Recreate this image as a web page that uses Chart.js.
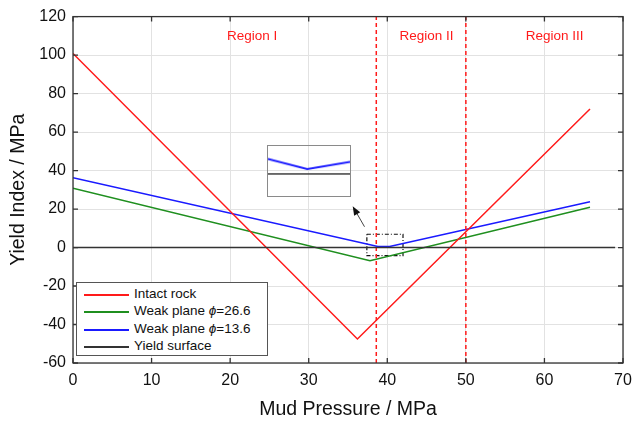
<!DOCTYPE html>
<html>
<head>
<meta charset="utf-8">
<script src="https://cdn.jsdelivr.net/npm/chart.js@4.4.0/dist/chart.umd.min.js"></script>
<style>
  body { margin: 0; background: #fff; }
  #wrap { position: relative; width: 633px; height: 423px; font-family: "Liberation Sans", Arial, sans-serif; }
  #main { position: absolute; left: 0; top: 0; }
  #inset { position: absolute; left: 267px; top: 145px; border: 1.5px solid #8a8a8a; }
  #legend { position: absolute; left: 76px; top: 282px; width: 190px; height: 72px;
            border: 1.5px solid #555; background: #fff; }
  #legend .row { position: absolute; left: 0; height: 16px; font-size: 13.5px; color: #111; white-space: nowrap; }
  #legend .sw { position: absolute; left: 7px; top: 8px; width: 45px; height: 1.5px; }
  #legend .lbl { position: absolute; left: 57px; top: 0; line-height: 16px; }
</style>
</head>
<body>
<div id="wrap">
  <canvas id="main" width="633" height="423"></canvas>
  <canvas id="inset" width="84" height="52"></canvas>
  <div id="legend"></div>
</div>
<script>
// yield index curves vs mud pressure (MPa)
const xIntact = [0, 36.2, 65.8];
const intactRock = [100.8, -47.5, 72.0];
const xWeak26 = [0, 37.8, 65.8];
const weakPlane26 = [30.8, -6.9, 20.9];
const xWeak13 = [0, 38.8, 40.3, 65.8];
const weakPlane13 = [36.3, 0.5, 0.5, 23.8];
const xYield = [0, 69];
const yieldSurface = [0, 0];

// region boundaries and labels
const regionBounds = [38.6, 50];
const regionNames = ['Region I', 'Region II', 'Region III'];
const regionLabelX = [22.8, 45.0, 61.3];
const regionLabelY = 107.6;

// zoom window around the blue minimum, and the pointer arrow
const zoomBoxX = [37.4, 42.0, 42.0, 37.4, 37.4];
const zoomBoxY = [6.9, 6.9, -4.2, -4.2, 6.9];
const arrowFrom = [37.1, 10.8];
const arrowTo = [35.6, 21.5];

// magnified view shown in the inset
const insetX = [37.4, 39.6, 42.0];
const insetBlue = [3.3, 1.06, 2.7];
const insetYieldX = [37.4, 42.0];
const insetYield = [0, 0];

const RED = '#ff1a1a', GREEN = '#1f8f1f', BLUE = '#1a1aff', DARK = '#333';
const FONT = '"Liberation Sans", Arial, sans-serif';

const pts = (xs, ys) => xs.map((x, i) => ({ x: x, y: ys[i] }));

const legendItems = [
  { color: RED, html: 'Intact rock' },
  { color: GREEN, html: 'Weak plane <i>&#981;</i>=26.6' },
  { color: BLUE, html: 'Weak plane <i>&#981;</i>=13.6' },
  { color: DARK, html: 'Yield surface' }
];
const legendEl = document.getElementById('legend');
legendItems.forEach((it, i) => {
  const row = document.createElement('div');
  row.className = 'row';
  row.style.top = Math.round(3 + i * 17.3) + 'px';
  row.innerHTML = '<div class="sw" style="background:' + it.color + '"></div><span class="lbl">' + it.html + '</span>';
  legendEl.appendChild(row);
});

// box, inward ticks, region text and arrow
const decorations = {
  id: 'decorations',
  afterDatasetsDraw(chart) {
    const { ctx, chartArea: a, scales: { x, y } } = chart;
    ctx.save();
    ctx.strokeStyle = DARK;
    ctx.lineWidth = 1.3;
    ctx.strokeRect(a.left, a.top, a.right - a.left, a.bottom - a.top);
    ctx.beginPath();
    x.ticks.forEach(t => {
      const px = x.getPixelForValue(t.value);
      ctx.moveTo(px, a.bottom); ctx.lineTo(px, a.bottom - 5);
      ctx.moveTo(px, a.top); ctx.lineTo(px, a.top + 5);
    });
    y.ticks.forEach(t => {
      const py = y.getPixelForValue(t.value);
      ctx.moveTo(a.left, py); ctx.lineTo(a.left + 5, py);
      ctx.moveTo(a.right, py); ctx.lineTo(a.right - 5, py);
    });
    ctx.stroke();

    ctx.fillStyle = RED;
    ctx.font = '13.5px ' + FONT;
    ctx.textAlign = 'center';
    ctx.textBaseline = 'alphabetic';
    regionNames.forEach((n, i) => {
      ctx.fillText(n, x.getPixelForValue(regionLabelX[i]), y.getPixelForValue(regionLabelY));
    });

    const x0 = x.getPixelForValue(arrowFrom[0]), y0 = y.getPixelForValue(arrowFrom[1]);
    const x1 = x.getPixelForValue(arrowTo[0]), y1 = y.getPixelForValue(arrowTo[1]);
    const ang = Math.atan2(y1 - y0, x1 - x0);
    ctx.strokeStyle = '#444';
    ctx.fillStyle = '#111';
    ctx.lineWidth = 1;
    ctx.beginPath();
    ctx.moveTo(x0, y0); ctx.lineTo(x1 - 6 * Math.cos(ang), y1 - 6 * Math.sin(ang));
    ctx.stroke();
    ctx.beginPath();
    ctx.moveTo(x1, y1);
    ctx.lineTo(x1 - 9 * Math.cos(ang) + 3.5 * Math.sin(ang), y1 - 9 * Math.sin(ang) - 3.5 * Math.cos(ang));
    ctx.lineTo(x1 - 9 * Math.cos(ang) - 3.5 * Math.sin(ang), y1 - 9 * Math.sin(ang) + 3.5 * Math.cos(ang));
    ctx.closePath();
    ctx.fill();
    ctx.restore();
  }
};

const lineDs = (data, color, extra) => Object.assign({
  data: data, borderColor: color, borderWidth: 1.5, pointRadius: 0, tension: 0, fill: false
}, extra || {});

new Chart(document.getElementById('main'), {
  type: 'line',
  data: {
    datasets: [
      lineDs(pts(xYield, yieldSurface), DARK),
      lineDs(pts([regionBounds[0], regionBounds[0]], [-60, 120]), RED, { borderDash: [4, 3] }),
      lineDs(pts([regionBounds[1], regionBounds[1]], [-60, 120]), RED, { borderDash: [4, 3] }),
      lineDs(pts(xIntact, intactRock), RED),
      lineDs(pts(xWeak26, weakPlane26), GREEN),
      lineDs(pts(xWeak13, weakPlane13), BLUE),
      lineDs(pts(zoomBoxX, zoomBoxY), '#111', { borderWidth: 1.2, borderDash: [4, 2, 1, 2] })
    ]
  },
  options: {
    responsive: false,
    animation: false,
    layout: { padding: { top: 16, right: 10, left: 0, bottom: 0 } },
    plugins: { legend: { display: false }, tooltip: { enabled: false } },
    scales: {
      x: {
        type: 'linear', min: 0, max: 70,
        ticks: { stepSize: 10, color: '#111', padding: 8, font: { size: 16, family: FONT } },
        grid: { color: '#e2e2e2', drawTicks: false },
        border: { display: false },
        title: { display: true, text: 'Mud Pressure / MPa', color: '#111',
                 font: { size: 19.5, family: FONT }, padding: { top: 0, bottom: 2 } },
        afterFit: s => { s.height = 60; s.paddingLeft = 0; s.paddingRight = 0; }
      },
      y: {
        type: 'linear', min: -60, max: 120,
        ticks: { stepSize: 20, color: '#111', padding: 7, font: { size: 16, family: FONT } },
        grid: { color: '#e2e2e2', drawTicks: false },
        border: { display: false },
        title: { display: true, text: 'Yield Index / MPa', color: '#111',
                 font: { size: 19.5, family: FONT }, padding: { top: 7, bottom: 0 } },
        afterFit: s => { s.width = 73; }
      }
    }
  },
  plugins: [decorations]
});

new Chart(document.getElementById('inset'), {
  type: 'line',
  data: {
    datasets: [
      lineDs(pts(insetYieldX, insetYield), DARK),
      lineDs(pts(insetX, insetBlue), BLUE, { borderWidth: 2 })
    ]
  },
  options: {
    responsive: false,
    animation: false,
    layout: { padding: 0 },
    plugins: { legend: { display: false }, tooltip: { enabled: false } },
    scales: {
      x: { type: 'linear', min: 37.4, max: 42.0, display: false },
      y: { type: 'linear', min: -4.9, max: 6.2, display: false }
    }
  }
});
</script>
</body>
</html>
